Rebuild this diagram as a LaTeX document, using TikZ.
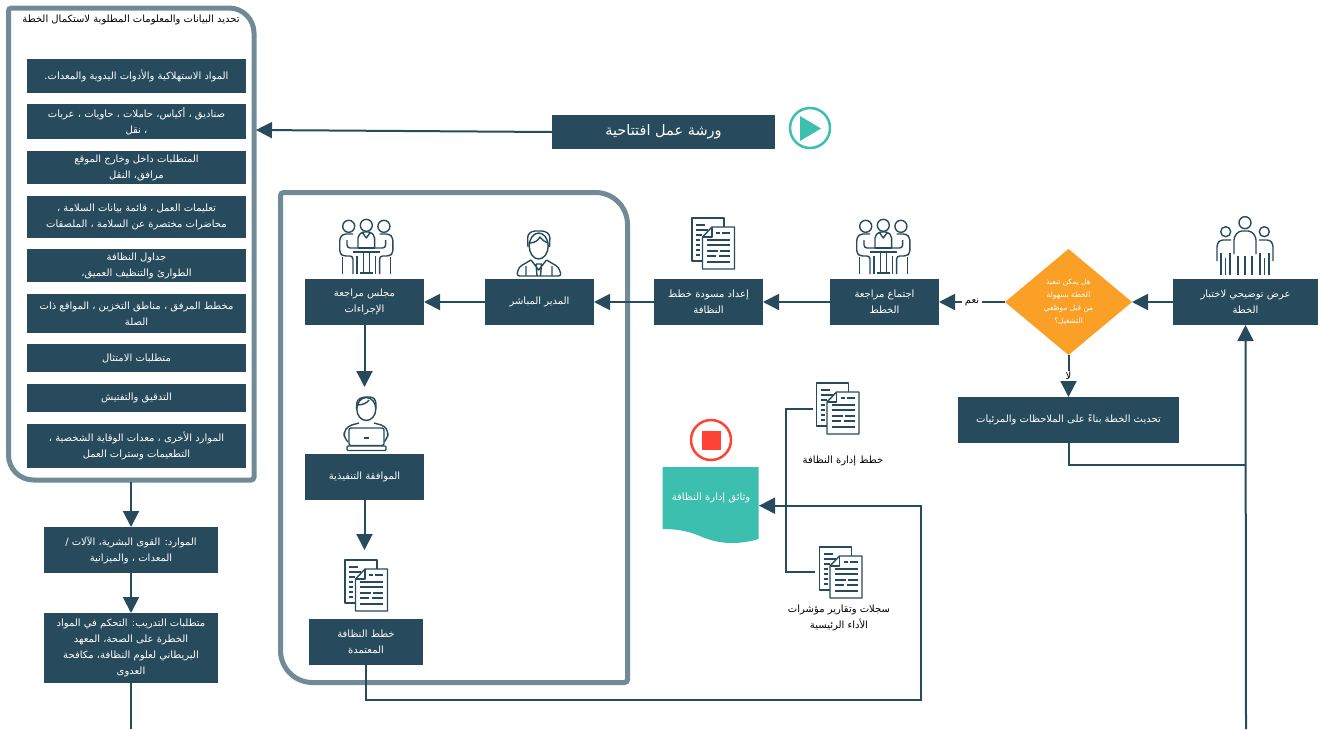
\documentclass[tikz,border=0pt]{standalone}
\usepackage{fontspec}
\usetikzlibrary{arrows.meta}
\usetikzlibrary{shapes.geometric}
\TeXXeTstate=1
\newfontfamily\arabicfont[Script=Arabic]{DejaVu Sans}
\newcommand{\rtl}[1]{\beginR #1\endR}
\definecolor{boxBlue}{HTML}{274B5C}
\definecolor{frameGrey}{HTML}{708B96}
\definecolor{startGreen}{HTML}{3CBFAE}
\definecolor{stopRed}{HTML}{FF4236}
\definecolor{askOrange}{HTML}{FBA026}
\tikzset{
	docIcon/.pic = {
		\draw[iconStyle, fill = white] (10,43) -- (0,43) -- (0,0) -- (32,0) -- (32,9);
		\draw[iconStyle, fill = white] (10.5,19) -- (20,9) -- (42.5,9) -- (42.5,51) -- (10.5,51) -- cycle;
		\draw[iconStyle] (20,9) -- (20,19) -- (10.5,19);
		\draw[iconStyle] (4,7) -- (13,7) (4,12) -- (16,12) (4,17) -- (10,17) (4,22) -- (8,22) (4,27) -- (8,27) (4,32) -- (8,32) (4,37) -- (8,37);
		\draw[iconStyle] (24,15) -- (28,15) (30,15) -- (38,15) (15,22) -- (38,22) (15,27) -- (38,27) (15,33) -- (26,33) (28,33) -- (38,33) (15,38) -- (24,38) (27,38) -- (38,38) (15,44) -- (38,44);
	},
	meetIcon/.pic = {
		\draw[iconStyle] (9.7,7.3) circle (6) (27.3,6.3) circle (6) (44.9,7.3) circle (6);
		\draw[iconStyle, rounded corners = 3] (14,15) -- (4,15) -- (0.7,19) -- (0.7,34) -- (4,37) -- (14,37) -- (14,55) (8,21) -- (8,29) -- (19,29);
		\draw[iconStyle, rounded corners = 3] (40.6,15) -- (50.6,15) -- (53.9,19) -- (53.9,34) -- (50.6,37) -- (40.6,37) -- (40.6,55) (46.6,21) -- (46.6,29) -- (35.6,29);
		\draw[iconStyle, rounded corners = 2] (19,29) -- (19,17) -- (23,13) -- (31.6,13) -- (35.6,17) -- (35.6,29);
		\draw[iconStyle] (23,13) -- (27.3,19) -- (31.6,13);
		\draw[iconStyle] (19,29) -- (35.6,29) (14,33) -- (40.6,33) (24.3,33) -- (24.3,53) (30.3,33) -- (30.3,53) (21,54) -- (33.6,54);
		\draw[iconStyle] (3.3,38) -- (3.3,55) (51.3,38) -- (51.3,55) (18,37) -- (18,55) (36.6,37) -- (36.6,55);
	},
	groupIcon/.pic = {
		\draw[iconStyle] (29,6.7) circle (6) (9.7,15.7) circle (5) (48.3,15.7) circle (5);
		\draw[iconStyle, rounded corners = 3] (18,38) -- (18,21) -- (23,15) -- (35,15) -- (40,21) -- (40,38);
		\draw[iconStyle, rounded corners = 3] (1,45) -- (1,28) -- (4,24) -- (15,24);
		\draw[iconStyle, rounded corners = 3] (57,45) -- (57,28) -- (54,24) -- (43,24);
		\draw[iconStyle] (22,40) -- (22,59) (29,40) -- (29,59) (36,40) -- (36,59);
		\draw[iconStyle] (5,37) -- (5,59) (9.5,42) -- (9.5,59) (14,37) -- (14,59) (44,37) -- (44,59) (48.5,42) -- (48.5,59) (53,37) -- (53,59);
	},
	managerIcon/.pic = {
		\draw[iconStyle] (22.7,16) ellipse (9.5 and 13);
		\draw[iconStyle, rounded corners = 3] (12,17) -- (11.5,5) -- (16,1) -- (29,1) -- (34,5) -- (33.5,17);
		\draw[iconStyle] (13,13) .. controls (18,13) and (22,11) .. (24,7) .. controls (26,10) and (29,12) .. (32,13);
		\draw[iconStyle, rounded corners = 3] (15,30) -- (3,37) -- (0.5,46) -- (45.5,46) -- (42.5,37) -- (30.5,30);
		\draw[iconStyle] (15,30) -- (22.7,40) -- (30.5,30) (20,34) -- (25.5,34) -- (24.5,46) (20,34) -- (21,46) (10,36) -- (10,46) (36,36) -- (36,46);
	},
	laptopIcon/.pic = {
		\draw[iconStyle] (23.3,13) ellipse (9.5 and 11.5);
		\draw[iconStyle, rounded corners = 3] (13.5,13) -- (14,4) -- (20,1) -- (30,1) -- (33,5) -- (33,13);
		\draw[iconStyle] (14,9) .. controls (20,9) and (24,7) .. (26,4);
		\draw[iconStyle, rounded corners = 4] (16,27) -- (5,30) -- (1,36) -- (1,41) -- (5,46);
		\draw[iconStyle, rounded corners = 4] (31,27) -- (42,30) -- (45,36) -- (45,41) -- (41,46);
		\draw[iconStyle, fill = white, rounded corners = 2] (6,32) rectangle (41,49.5);
		\draw[iconStyle, fill = white, rounded corners = 1] (4,50) rectangle (43,54.5);
		\draw[iconStyle] (20.5,42) -- (25.5,42);
	}
}

\begin{document}
\begin{tikzpicture}[x = 1pt, y = -1pt]
	\tikzstyle{iconStyle}=[draw = boxBlue, line width = 1.4pt, line join = round]
	\tikzstyle{frameStyle}=[draw = frameGrey, line width = 5pt]
	\tikzstyle{boxStyle}=[shape = rectangle, fill = boxBlue, text = white, align = center, inner sep = 0pt, outer sep = 0pt, font = \arabicfont\fontsize{10}{16}\selectfont]
	\tikzstyle{plainStyle}=[text = black, align = center, inner sep = 1pt, font = \arabicfont\fontsize{10}{16}\selectfont]
	\tikzstyle{flowStyle}=[draw = boxBlue, line width = 2pt, -{Triangle[length = 16pt, width = 16pt]}]
	\tikzstyle{lineStyle}=[draw = boxBlue, line width = 2pt]
	\useasboundingbox (0,0) rectangle (1322,729);

	\draw[frameStyle, rounded corners = 3pt] (8.5,8) [rounded corners = 25pt] -- (254,8) [rounded corners = 3pt] -- (254,480) [rounded corners = 25pt] -- (8.5,480) [rounded corners = 3pt] -- cycle;
	\draw[frameStyle, rounded corners = 3pt] (280.5,192.5) [rounded corners = 32pt] -- (627.5,192.5) [rounded corners = 3pt] -- (627.5,682.5) [rounded corners = 32pt] -- (280.5,682.5) [rounded corners = 3pt] -- cycle;

	\node[plainStyle] (inputsTitle) at (131,19.5) {\rtl{تحديد البيانات والمعلومات المطلوبة لاستكمال الخطة}};
	\node[boxStyle, minimum width = 219pt, minimum height = 34pt] (inputA) at (136.5,76) {\rtl{المواد الاستهلاكية والأدوات اليدوية والمعدات.}};
	\node[boxStyle, minimum width = 219pt, minimum height = 35pt] (inputB) at (136.5,121.5) {\rtl{صناديق ، أكياس، حاملات ، حاويات ، عربات}\\\rtl{، نقل}};
	\node[boxStyle, minimum width = 219pt, minimum height = 33pt] (inputC) at (136.5,167.5) {\rtl{المتطلبات داخل وخارج الموقع}\\\rtl{مرافق، النقل}};
	\node[boxStyle, minimum width = 219pt, minimum height = 42pt] (inputD) at (136.5,217) {\rtl{تعليمات العمل ، قائمة بيانات السلامة ،}\\\rtl{محاضرات مختصرة عن السلامة ، الملصقات}};
	\node[boxStyle, minimum width = 219pt, minimum height = 33pt] (inputE) at (136.5,265.5) {\rtl{جداول النظافة}\\\rtl{الطوارئ والتنظيف العميق،}};
	\node[boxStyle, minimum width = 219pt, minimum height = 39pt] (inputF) at (136.5,313.5) {\rtl{مخطط المرفق ، مناطق التخزين ، المواقع ذات}\\\rtl{الصلة}};
	\node[boxStyle, minimum width = 219pt, minimum height = 28pt] (inputG) at (136.5,358) {\rtl{متطلبات الامتثال}};
	\node[boxStyle, minimum width = 219pt, minimum height = 28pt] (inputH) at (136.5,398) {\rtl{التدقيق والتفتيش}};
	\node[boxStyle, minimum width = 219pt, minimum height = 44pt] (inputI) at (136.5,446) {\rtl{الموارد الأخرى ، معدات الوقاية الشخصية ،}\\\rtl{التطعيمات وسترات العمل}};

	\node[boxStyle, minimum width = 174pt, minimum height = 46pt] (resourceBox) at (131,550) {\rtl{الموارد: القوى البشرية، الآلات /}\\\rtl{المعدات ، والميزانية}};
	\node[boxStyle, minimum width = 174pt, minimum height = 70pt] (trainBox) at (131,648) {\rtl{متطلبات التدريب: التحكم في المواد}\\\rtl{الخطرة على الصحة، المعهد}\\\rtl{البريطاني لعلوم النظافة، مكافحة}\\\rtl{العدوى}};

	\node[boxStyle, minimum width = 223pt, minimum height = 34pt, font = \arabicfont\fontsize{14.5}{16}\selectfont] (workshopBox) at (663.5,132) {\rtl{ورشة عمل افتتاحية}};
	\draw[draw = startGreen, line width = 2.5pt] (810,128) circle (20);
	\fill[startGreen] (800,116) -- (821,128.5) -- (800,141) -- cycle;

	\node[boxStyle, minimum width = 119pt, minimum height = 46pt] (councilBox) at (364.5,302) {\rtl{مجلس مراجعة}\\\rtl{الإجراءات}};
	\node[boxStyle, minimum width = 109pt, minimum height = 46pt] (managerBox) at (539.5,302) {\rtl{المدير المباشر}};
	\node[boxStyle, minimum width = 109pt, minimum height = 46pt] (draftBox) at (708.5,302) {\rtl{إعداد مسودة خطط}\\\rtl{النظافة}};
	\node[boxStyle, minimum width = 109pt, minimum height = 46pt] (meetingBox) at (884.5,302) {\rtl{اجتماع مراجعة}\\\rtl{الخطط}};
	\node[boxStyle, minimum width = 145pt, minimum height = 46pt] (presentBox) at (1245.5,302) {\rtl{عرض توضيحي لاختبار}\\\rtl{الخطة}};
	\node[boxStyle, shape = diamond, fill = askOrange, minimum width = 127pt, minimum height = 106pt, aspect = 1.2, font = \arabicfont\fontsize{7.4}{13}\selectfont] (askNode) at (1068.5,302) {\rtl{هل يمكن تنفيذ}\\\rtl{الخطة بسهولة}\\\rtl{من قبل موظفي}\\\rtl{التشغيل؟}};
	\node[boxStyle, minimum width = 221pt, minimum height = 46pt] (updateBox) at (1068.5,420) {\rtl{تحديث الخطة بناءً على الملاحظات والمرئيات}};
	\node[boxStyle, minimum width = 119pt, minimum height = 46pt] (execBox) at (364.5,477) {\rtl{الموافقة التنفيذية}};
	\node[boxStyle, minimum width = 114pt, minimum height = 46pt] (approvedBox) at (366,642) {\rtl{خطط النظافة}\\\rtl{المعتمدة}};

	\fill[startGreen] (662.7,467) -- (758.7,467) -- (758.7,539) .. controls (735,546) and (715,543) .. (700,536) .. controls (690,532) and (680,529) .. (662.7,529) -- cycle;
	\node[plainStyle, text = white] (docsLabel) at (711,498) {\rtl{وثائق إدارة النظافة}};
	\draw[draw = stopRed, line width = 2.5pt] (711,440) circle (20);
	\fill[stopRed] (701.5,430.5) rectangle (721,450);

	\node[plainStyle] (plansLabel) at (843,460.5) {\rtl{خطط إدارة النظافة}};
	\node[plainStyle] (recordsLabel) at (839,618) {\rtl{سجلات وتقارير مؤشرات}\\\rtl{الأداء الرئيسية}};

	\pic at (692,218) {docIcon};
	\pic at (345,560) {docIcon};
	\pic at (816.5,383) {docIcon};
	\pic at (819.5,547) {docIcon};
	\pic at (339,219) {meetIcon};
	\pic at (856,219) {meetIcon};
	\pic at (1216,216) {groupIcon};
	\pic at (516,230) {managerIcon};
	\pic at (343,396) {laptopIcon};

	\coordinate (inputsEdge) at (256,130);
	\coordinate (inputsFoot) at (131,482);
	\coordinate (trainExit) at (131,729);
	\coordinate (planJoin) at (1246,465);
	\coordinate (testEntry) at (1246,729);
	\coordinate (returnCorner) at (920.5,700);
	\coordinate (docsEdge) at (759,505.7);
	\coordinate (plansLink) at (813,409);
	\coordinate (recordsLink) at (815,572);
	\coordinate (treeTop) at (785.7,409);

	\draw[flowStyle] (workshopBox.west) -- (inputsEdge);
	\draw[flowStyle] (inputsFoot) -- (resourceBox.north);
	\draw[flowStyle] (resourceBox.south) -- (trainBox.north);
	\draw[lineStyle] (trainBox.south) -- (trainExit);
	\draw[flowStyle] (presentBox.west) -- (askNode.east);
	\draw[flowStyle] (askNode.west) -- node[plainStyle, fill = white, inner sep = 3pt] (yesLabel) {\rtl{نعم}} (meetingBox.east);
	\draw[flowStyle] (askNode.south) -- node[plainStyle, fill = white] (noLabel) {\rtl{لا}} (updateBox.north);
	\draw[flowStyle] (meetingBox.west) -- (draftBox.east);
	\draw[flowStyle] (draftBox.west) -- (managerBox.east);
	\draw[flowStyle] (managerBox.west) -- (councilBox.east);
	\draw[flowStyle] (councilBox.south) -- +(0,62);
	\draw[flowStyle] (execBox.south) -- +(0,50);
	\draw[lineStyle] (updateBox.south) |- (planJoin);
	\draw[flowStyle] (testEntry) -- (presentBox.south);
	\draw[lineStyle] (plansLink) -- (treeTop) |- (recordsLink);
	\draw[flowStyle] (approvedBox.south) |- (returnCorner) |- (docsEdge);
\end{tikzpicture}
\end{document}
